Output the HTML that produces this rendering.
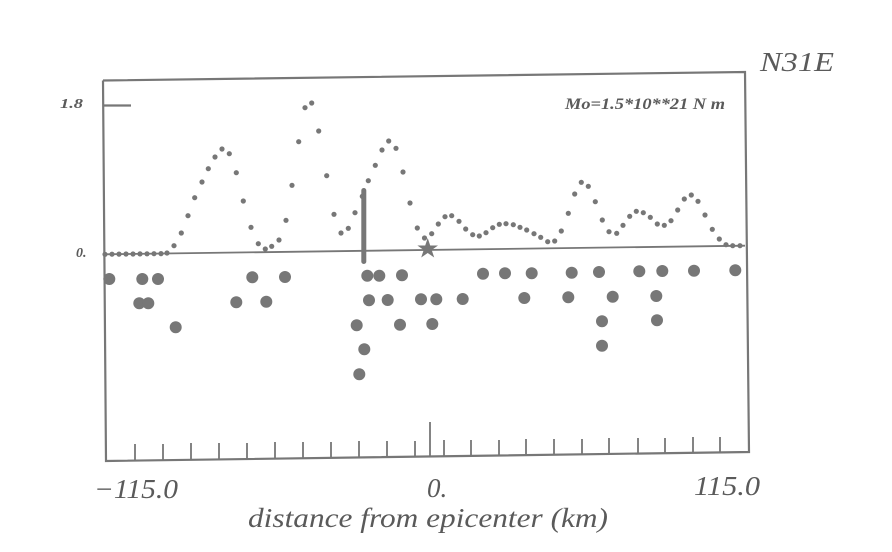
<!DOCTYPE html>
<html><head><meta charset="utf-8"><style>
html,body{margin:0;padding:0;background:#fff;}
svg{display:block;}
text{font-family:"Liberation Serif",serif;font-style:italic;fill:#5a5a5a;}
</style></head><body>
<svg width="892" height="552" viewBox="0 0 892 552" xmlns="http://www.w3.org/2000/svg">
<g stroke="#777" fill="none" stroke-width="2.2">
<polyline points="103,80.5 745,72 749,452 106,461 103,80.5"/>
<line x1="103" y1="105.5" x2="131" y2="105.5"/>
<line x1="104" y1="254.3" x2="745" y2="245.7" stroke-width="1.8"/>
<g stroke-width="1.8">
<line x1="135" y1="444" x2="135" y2="460"/><line x1="163" y1="444" x2="163" y2="460"/>
<line x1="191" y1="443" x2="191" y2="459"/><line x1="219" y1="443" x2="219" y2="459"/>
<line x1="247" y1="443" x2="247" y2="459"/><line x1="275" y1="442" x2="275" y2="458"/>
<line x1="303" y1="442" x2="303" y2="458"/><line x1="331" y1="442" x2="331" y2="458"/>
<line x1="359" y1="441" x2="359" y2="457"/><line x1="387" y1="441" x2="387" y2="457"/>
<line x1="415" y1="441" x2="415" y2="457"/><line x1="430" y1="422" x2="430" y2="457"/>
<line x1="444" y1="440" x2="444" y2="456"/><line x1="471" y1="440" x2="471" y2="456"/>
<line x1="499" y1="440" x2="499" y2="456"/><line x1="526" y1="439" x2="526" y2="455"/>
<line x1="554" y1="439" x2="554" y2="455"/><line x1="582" y1="439" x2="582" y2="455"/>
<line x1="609" y1="438" x2="609" y2="454"/><line x1="638" y1="438" x2="638" y2="454"/>
<line x1="665" y1="438" x2="665" y2="454"/><line x1="693" y1="437" x2="693" y2="453"/>
<line x1="720" y1="437" x2="720" y2="453"/>
</g>
</g>
<rect x="361.3" y="188" width="5" height="76" rx="2.5" fill="#777"/>
<g fill="#777">
<g>
<circle cx="105" cy="254.3" r="2.6"/><circle cx="112" cy="254.2" r="2.6"/><circle cx="119" cy="254.1" r="2.6"/><circle cx="126" cy="254" r="2.6"/><circle cx="133" cy="254" r="2.6"/><circle cx="140" cy="253.9" r="2.6"/><circle cx="147" cy="253.8" r="2.6"/><circle cx="154" cy="253.7" r="2.6"/><circle cx="161" cy="253.6" r="2.6"/><circle cx="167" cy="253" r="2.6"/>
<circle cx="174" cy="245.7" r="2.6"/><circle cx="181.3" cy="233" r="2.6"/><circle cx="188" cy="215.7" r="2.6"/><circle cx="194.7" cy="197.7" r="2.6"/><circle cx="202" cy="182" r="2.6"/><circle cx="208.3" cy="168.7" r="2.6"/><circle cx="215" cy="157" r="2.6"/><circle cx="222" cy="149" r="2.6"/><circle cx="229.3" cy="153.7" r="2.6"/><circle cx="236.3" cy="172.7" r="2.6"/><circle cx="243.3" cy="201" r="2.6"/><circle cx="251" cy="227.3" r="2.6"/><circle cx="258.3" cy="243.7" r="2.6"/><circle cx="265.3" cy="249" r="2.6"/><circle cx="271.7" cy="246.3" r="2.6"/><circle cx="279" cy="240" r="2.6"/><circle cx="286" cy="220.3" r="2.6"/><circle cx="292" cy="185.3" r="2.6"/><circle cx="298.7" cy="141.7" r="2.6"/><circle cx="305" cy="107.7" r="2.6"/><circle cx="311.7" cy="103" r="2.6"/><circle cx="318.7" cy="131" r="2.6"/><circle cx="326.7" cy="175.7" r="2.6"/><circle cx="334" cy="214.3" r="2.6"/><circle cx="341" cy="233" r="2.6"/><circle cx="348.3" cy="228.3" r="2.6"/><circle cx="355" cy="212.7" r="2.6"/><circle cx="362.3" cy="196.3" r="2.6"/><circle cx="368.3" cy="180.7" r="2.6"/><circle cx="375.3" cy="165.3" r="2.6"/><circle cx="382" cy="150" r="2.6"/><circle cx="388.7" cy="141" r="2.6"/><circle cx="396" cy="148.3" r="2.6"/><circle cx="403" cy="172" r="2.6"/><circle cx="410" cy="203" r="2.6"/><circle cx="417.3" cy="228" r="2.6"/><circle cx="424.5" cy="238" r="2.6"/>
<circle cx="431.7" cy="233.7" r="2.6"/><circle cx="438.3" cy="224" r="2.6"/><circle cx="445" cy="216.7" r="2.6"/><circle cx="451.7" cy="215.7" r="2.6"/><circle cx="459" cy="221.3" r="2.6"/><circle cx="465.7" cy="229" r="2.6"/><circle cx="472.7" cy="234.7" r="2.6"/><circle cx="479.3" cy="236" r="2.6"/><circle cx="486" cy="232.7" r="2.6"/><circle cx="492.7" cy="227.7" r="2.6"/><circle cx="499.3" cy="224.3" r="2.6"/><circle cx="506" cy="223.7" r="2.6"/><circle cx="513.3" cy="224.7" r="2.6"/><circle cx="520" cy="227.3" r="2.6"/><circle cx="526.7" cy="230" r="2.6"/><circle cx="534" cy="233.7" r="2.6"/><circle cx="540.7" cy="237.3" r="2.6"/><circle cx="547.7" cy="241.7" r="2.6"/><circle cx="554.7" cy="241" r="2.6"/><circle cx="561.3" cy="231" r="2.6"/><circle cx="568.3" cy="213.3" r="2.6"/><circle cx="574.7" cy="194" r="2.6"/><circle cx="581.3" cy="182.3" r="2.6"/><circle cx="588.3" cy="186.3" r="2.6"/><circle cx="595.3" cy="201.7" r="2.6"/><circle cx="602.3" cy="220" r="2.6"/><circle cx="609" cy="231.7" r="2.6"/><circle cx="616.7" cy="233.3" r="2.6"/><circle cx="623" cy="225.3" r="2.6"/><circle cx="629.7" cy="216.3" r="2.6"/><circle cx="636.3" cy="211.3" r="2.6"/><circle cx="643.3" cy="212.7" r="2.6"/><circle cx="650.3" cy="217.3" r="2.6"/><circle cx="657.3" cy="224" r="2.6"/><circle cx="664.3" cy="225.3" r="2.6"/><circle cx="671" cy="220.7" r="2.6"/><circle cx="677.7" cy="210" r="2.6"/><circle cx="684.3" cy="199" r="2.6"/><circle cx="691.3" cy="195" r="2.6"/><circle cx="698" cy="201.3" r="2.6"/><circle cx="705" cy="215" r="2.6"/><circle cx="712.3" cy="229.3" r="2.6"/><circle cx="719.3" cy="239" r="2.6"/><circle cx="726" cy="244.7" r="2.6"/><circle cx="732.7" cy="245.7" r="2.6"/><circle cx="740" cy="245.7" r="2.6"/>
</g>
<g>
<circle cx="109.3" cy="279" r="6"/><circle cx="142.3" cy="279" r="6"/><circle cx="158" cy="279" r="6"/><circle cx="139.3" cy="303.3" r="6"/><circle cx="148.3" cy="303.3" r="6"/><circle cx="175.7" cy="327.3" r="6"/><circle cx="252.3" cy="277.3" r="6"/><circle cx="285" cy="277" r="6"/><circle cx="236.3" cy="302.3" r="6"/><circle cx="266.3" cy="301.7" r="6"/><circle cx="367.3" cy="275.7" r="6"/><circle cx="379.3" cy="275.7" r="6"/><circle cx="402" cy="275.3" r="6"/><circle cx="369" cy="300.3" r="6"/><circle cx="387.7" cy="300" r="6"/><circle cx="421" cy="299.3" r="6"/><circle cx="436.3" cy="299.3" r="6"/><circle cx="356.7" cy="325.3" r="6"/><circle cx="400" cy="324.7" r="6"/><circle cx="432.3" cy="324" r="6"/><circle cx="364.3" cy="349.3" r="6"/><circle cx="359.3" cy="374.3" r="6"/>
<circle cx="483" cy="273.7" r="6"/><circle cx="505" cy="273.3" r="6"/><circle cx="531.7" cy="273.3" r="6"/><circle cx="571.7" cy="272.7" r="6"/><circle cx="599" cy="272" r="6"/><circle cx="639.3" cy="271.3" r="6"/><circle cx="662.3" cy="271" r="6"/><circle cx="694" cy="270.7" r="6"/><circle cx="735.3" cy="270.3" r="6"/><circle cx="462.7" cy="299" r="6"/><circle cx="524.3" cy="298" r="6"/><circle cx="568.3" cy="297.3" r="6"/><circle cx="612.7" cy="296.7" r="6"/><circle cx="656.3" cy="296" r="6"/><circle cx="602" cy="321.3" r="6"/><circle cx="657" cy="320.3" r="6"/><circle cx="602" cy="345.7" r="6"/>
</g>
<polygon points="427.7,238 430.2,245.5 438,245.5 431.7,250 434.2,257.5 427.7,253 421.2,257.5 423.7,250 417.4,245.5 425.2,245.5"/>
</g>
<text x="760" y="71" font-size="27" textLength="74" lengthAdjust="spacingAndGlyphs">N31E</text>
<text x="60" y="108" font-size="14" font-weight="bold" textLength="23" lengthAdjust="spacingAndGlyphs">1.8</text>
<text x="76" y="257" font-size="14" font-weight="bold">0.</text>
<text x="565" y="109" font-size="16" font-weight="bold" textLength="160" lengthAdjust="spacingAndGlyphs">Mo=1.5*10**21 N m</text>
<text x="94" y="498" font-size="27" textLength="84" lengthAdjust="spacingAndGlyphs">−115.0</text>
<text x="427" y="497" font-size="27">0.</text>
<text x="694" y="495" font-size="27" textLength="66" lengthAdjust="spacingAndGlyphs">115.0</text>
<text x="248" y="527" font-size="27" textLength="360" lengthAdjust="spacingAndGlyphs">distance from epicenter (km)</text>
</svg>
</body></html>
